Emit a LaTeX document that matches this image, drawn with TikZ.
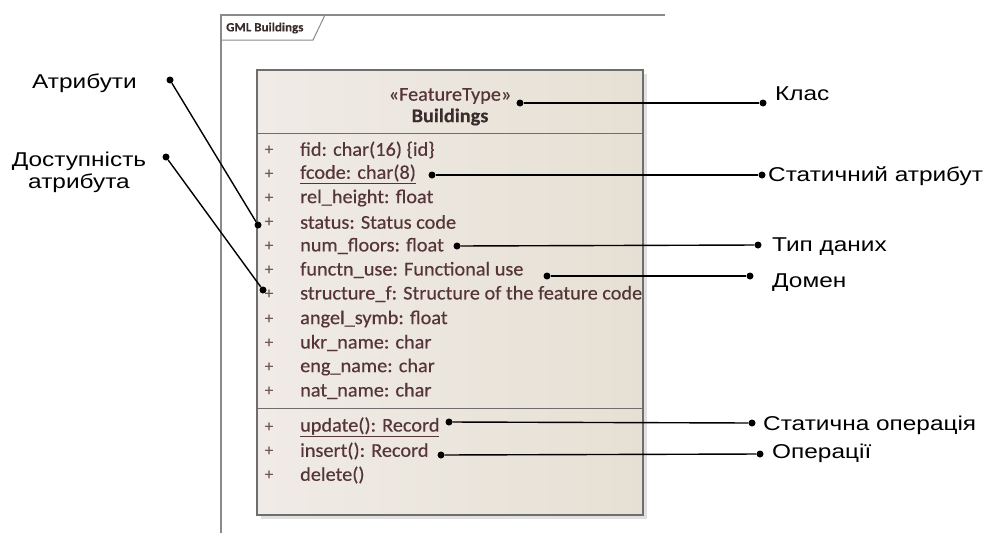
\documentclass[tikz,border=0pt]{standalone}
\usepackage{fontspec}
\setmainfont{Liberation Sans}
\newfontfamily\lblfont[FakeStretch=1.22]{Liberation Sans}
\newfontfamily\umlfont[FakeStretch=1.04,FakeBold=0.4]{Carlito}
\definecolor{framec}{HTML}{8A8A8A}
\definecolor{boxb}{HTML}{6E6E6E}
\definecolor{boxl}{HTML}{F0EBE6}
\definecolor{boxr}{HTML}{E6E0D4}
\definecolor{umltext}{HTML}{553538}
\definecolor{headtext}{HTML}{3A2C2C}
\definecolor{plusc}{HTML}{6E5656}
\begin{document}
\begin{tikzpicture}[x=1pt,y=-1pt,
  dot/.style={circle,fill=black,inner sep=0pt,minimum size=7pt},
  conn/.style={line width=1.4pt},
  attr/.style={anchor=west,inner sep=0pt,font=\umlfont\fontsize{19.5}{22}\selectfont,text=umltext},
  plus/.style={anchor=center,inner sep=0pt,font=\umlfont\fontsize{16}{18}\selectfont,text=plusc},
  lbl/.style={anchor=base west,inner sep=0pt,font=\lblfont\fontsize{20}{23}\selectfont}]
\useasboundingbox (0,0) rectangle (990,533);
% package frame
\draw[framec,line width=1.2pt] (221,533) -- (221,15) -- (665,15);
\draw[framec,line width=1pt] (221,40) -- (313,40) -- (325,15);
\node[anchor=west,inner sep=0pt,font=\umlfont\bfseries\fontsize{12.5}{14}\selectfont,text=headtext] (pkg) at (226,28) {GML Buildings};
% class box
\fill[black!12] (261,74) rectangle (647,519);
\shade[left color=boxl,right color=boxr] (257,70) rectangle (643,515);
\draw[boxb,line width=1.3pt] (257,70) rectangle (643,515);
\draw[boxb,line width=1pt] (257,133) -- (643,133);
\draw[boxb,line width=1pt] (257,408) -- (643,408);
\node[inner sep=0pt,font=\umlfont\fontsize{19.5}{22}\selectfont,text=umltext] (stereo) at (450,96) {«FeatureType»};
\node[inner sep=0pt,font=\umlfont\bfseries\fontsize{19.5}{22}\selectfont,text=headtext] (cname) at (450,117) {Buildings};
% attributes
\node[plus] (p1) at (269,150) {+};   \node[attr] (a1) at (300,150) {fid: char(16) \{id\}};
\node[plus] (p2) at (269,174) {+};   \node[attr] (a2) at (300,174) {\underline{fcode: char(8)}};
\node[plus] (p3) at (269,198) {+};   \node[attr] (a3) at (300,198) {rel\_height: float};
\node[plus] (p4) at (269,222) {+};   \node[attr] (a4) at (300,222) {status: Status code};
\node[plus] (p5) at (269,246) {+};   \node[attr] (a5) at (300,246) {num\_floors: float};
\node[plus] (p6) at (269,270) {+};   \node[attr] (a6) at (300,270) {functn\_use: Functional use};
\node[plus] (p7) at (269,294) {+};   \node[attr] (a7) at (300,294) {structure\_f: Structure of the feature code};
\node[plus] (p8) at (269,319) {+};   \node[attr] (a8) at (300,319) {angel\_symb: float};
\node[plus] (p9) at (269,343) {+};   \node[attr] (a9) at (300,343) {ukr\_name: char};
\node[plus] (p10) at (269,367) {+};  \node[attr] (a10) at (300,367) {eng\_name: char};
\node[plus] (p11) at (269,391) {+};  \node[attr] (a11) at (300,391) {nat\_name: char};
% operations
\node[plus] (p12) at (269,427) {+};  \node[attr] (o1) at (300,427) {\underline{update(): Record}};
\node[plus] (p13) at (269,451) {+};  \node[attr] (o2) at (300,451) {insert(): Record};
\node[plus] (p14) at (269,475) {+};  \node[attr] (o3) at (300,475) {delete()};
% right labels
\node[lbl] (lk) at (775,100) {Клас};
\node[lbl] (ls) at (768,181) {Статичний атрибут};
\node[lbl] (lt) at (772,251) {Тип даних};
\node[lbl] (ld) at (772,287) {Домен};
\node[lbl] (lso) at (763,430) {Статична операція};
\node[lbl] (lo) at (772,458) {Операції};
% left labels
\node[lbl] (la) at (32,88) {Атрибути};
\node[align=center,inner sep=0pt,font=\lblfont\fontsize{20}{22}\selectfont] (lv) at (79,172) {Доступність\\атрибута};
% dots
\node[dot] (k1) at (520,103) {};  \node[dot] (k2) at (763,103) {};
\node[dot] (s1) at (432,175) {};  \node[dot] (s2) at (762,175) {};
\node[dot] (t1) at (457,246) {};  \node[dot] (t2) at (758,245) {};
\node[dot] (m1) at (547,276) {};  \node[dot] (m2) at (750,276) {};
\node[dot] (so1) at (449,422) {}; \node[dot] (so2) at (752,423) {};
\node[dot] (op1) at (441,455) {}; \node[dot] (op2) at (760,454) {};
\node[dot] (at1) at (170,80) {};  \node[dot] (at2) at (258,225) {};
\node[dot] (v1) at (166,157) {};  \node[dot] (v2) at (263,290) {};
% connectors
\draw[conn] (k1) -- (k2);
\draw[conn] (s1) -- (s2);
\draw[conn] (t1) -- (t2);
\draw[conn] (m1) -- (m2);
\draw[conn] (so1) -- (so2);
\draw[conn] (op1) -- (op2);
\draw[conn] (at1) -- (at2);
\draw[conn] (v1) -- (v2);
\end{tikzpicture}
\end{document}
